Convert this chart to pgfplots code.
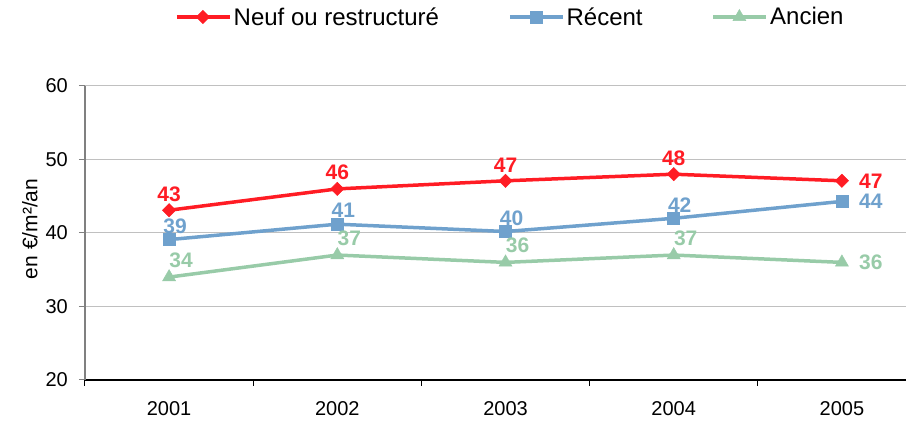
\documentclass[border=0pt]{standalone}
\usepackage{fontspec}
\setmainfont{Liberation Sans}
\usepackage{pgfplots}
\pgfplotsset{compat=1.18}
\usepackage{pgfplotstable}
\definecolor{cred}{RGB}{255,28,36}
\definecolor{cblue}{RGB}{111,161,205}
\definecolor{cgreen}{RGB}{152,203,168}
\definecolor{cgrid}{RGB}{192,192,192}
\definecolor{caxis}{RGB}{128,128,128}

\pgfplotstableread{
x y lab
0 43.1 43
1 46.0 46
2 47.1 47
3 48.0 48
4 47.1 47
}\neuf
\pgfplotstableread{
x y lab
0 39.1 39
1 41.2 41
2 40.2 40
3 42.0 42
4 44.3 44
}\recent
\pgfplotstableread{
x y lab
0 34.0 34
1 37.0 37
2 36.0 36
3 37.0 37
4 36.0 36
}\ancien

\begin{document}
\begin{tikzpicture}
\begin{axis}[
  scale only axis, width=821pt, height=294pt,
  at={(85pt,42pt)}, anchor=south west,
  xmin=-0.5, xmax=4.381, ymin=20, ymax=60,
  ytick={20,30,...,60},
  axis x line=bottom, axis y line=left,
  x axis line style={-, black, line width=1.3pt},
  y axis line style={-, caxis, line width=1.3pt},
  ymajorgrids, grid style={draw=cgrid, line width=1pt},
  xtick={-0.5,0.5,1.5,2.5,3.5}, xticklabels={,,,,},
  extra x ticks={0,1,2,3,4},
  extra x tick labels={2001,2002,2003,2004,2005},
  extra x tick style={major tick length=0pt, grid=none},
  tick align=outside, major tick length=6pt,
  xtick style={black, line width=1pt},
  ytick style={caxis, line width=1pt},
  /pgf/number format/assume math mode=true,
  tick label style={font=\fontsize{20}{24}\selectfont, inner sep=0pt},
  xticklabel style={anchor=north, yshift=-21pt},
  yticklabel style={anchor=east, xshift=-11pt},
  ylabel={en €/m²/an},
  ylabel style={font=\fontsize{21}{25}\selectfont, at={(axis description cs:-0.067,0.514)}, anchor=center},
  legend columns=-1,
  legend style={draw=none, fill=none, font=\fontsize{24}{28}\selectfont,
    at={(axis description cs:0.1096,1.2347)}, anchor=west, inner sep=0pt,
    /tikz/every even column/.append style={column sep=67pt}},
  legend image code/.code={\draw[mark repeat=2,mark phase=2,#1] plot coordinates {(0pt,0pt) (26pt,0pt) (53pt,0pt)};},
  nodes near coords,
  point meta=explicit symbolic,
  every node near coord/.append style={font=\fontsize{21}{25}\selectfont\bfseries, inner sep=0pt},
]
\addplot[cred, line width=3.5pt, mark=square*, mark size=4.7pt, mark options={rotate=45, line width=0.5pt},
  nodes near coords style={cred},
  coordinate style/.condition={x<3.5}{anchor=south, yshift=8.5pt},
  coordinate style/.condition={x>3.5}{anchor=west, xshift=17pt}]
  table[x=x, y=y, meta=lab] {\neuf};
\addlegendentry{Neuf ou restructuré}
\addplot[cblue, line width=3.5pt, mark=square*, mark size=6pt, mark options={line width=0.5pt},
  nodes near coords style={cblue},
  coordinate style/.condition={x<3.5}{anchor=south, xshift=6pt, yshift=6pt},
  coordinate style/.condition={x>3.5}{anchor=west, xshift=17pt}]
  table[x=x, y=y, meta=lab] {\recent};
\addlegendentry{Récent}
\addplot[cgreen, line width=3.5pt, mark=triangle*, mark size=7.5pt, mark options={line width=0.5pt},
  nodes near coords style={cgreen},
  coordinate style/.condition={x<3.5}{anchor=south, xshift=12pt, yshift=9pt},
  coordinate style/.condition={x>3.5}{anchor=west, xshift=17pt}]
  table[x=x, y=y, meta=lab] {\ancien};
\addlegendentry{Ancien}
\end{axis}
\pgfresetboundingbox
\path[use as bounding box] (0,0) rectangle (906pt,422pt);
\end{tikzpicture}
\end{document}
